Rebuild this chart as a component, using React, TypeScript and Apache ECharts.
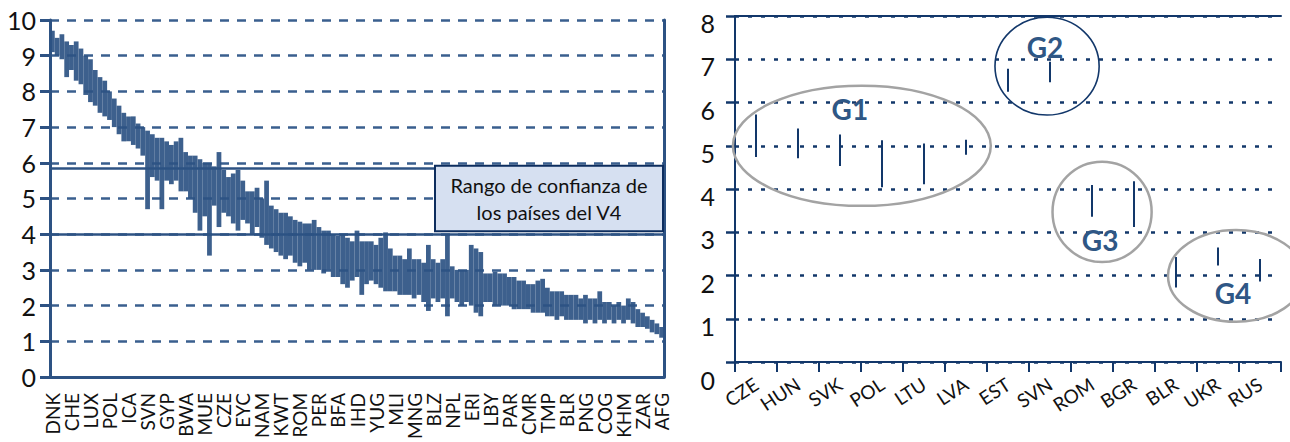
import React, { useEffect, useRef } from "react";
import * as echarts from "echarts";

// ---------- Left chart data (country index scores with confidence ranges) ----------
const leftLabels = [
  "DNK", "CHE", "LUX", "POL", "ICA", "SVN", "GYP", "BWA", "MUE", "CZE", "EYC",
  "NAM", "KWT", "ROM", "PER", "BFA", "IHD", "YUG", "MLI", "MNG", "BLZ", "NPL",
  "ERI", "LBY", "PAR", "CMR", "TMP", "BLR", "PNG", "COG", "KHM", "ZAR", "AFG",
];
const leftHigh = [
  9.7, 9.5, 9.6, 9.4, 9.3, 9.4, 9.2, 9.0, 8.9, 8.6,
  8.4, 8.3, 8.0, 7.8, 7.6, 7.4, 7.3, 7.3, 7.1, 7.0,
  6.9, 6.8, 6.7, 6.7, 6.6, 6.5, 6.6, 6.7, 6.3, 6.2,
  6.2, 6.1, 6.0, 6.0, 5.9, 6.3, 5.8, 5.6, 5.7, 5.8,
  5.5, 5.2, 5.2, 5.3, 5.0, 5.5, 4.8, 4.7, 4.6, 4.6,
  4.5, 4.4, 4.35, 4.3, 4.3, 4.4, 4.2, 4.1, 4.1, 4.0,
  3.95, 4.0, 3.9, 3.8, 4.1, 3.8, 3.8, 3.8, 3.7, 3.9,
  4.05, 3.6, 3.4, 3.4, 3.3, 3.6, 3.3, 3.3, 3.2, 3.7,
  3.3, 3.2, 3.3, 4.0, 3.1, 3.0, 3.0, 3.0, 3.7, 3.6,
  3.5, 2.9, 2.9, 2.95, 2.9, 2.9, 2.8, 2.8, 2.7, 2.7,
  2.6, 2.6, 2.7, 2.75, 2.5, 2.4, 2.4, 2.4, 2.3, 2.3,
  2.3, 2.2, 2.3, 2.2, 2.2, 2.4, 2.1, 2.1, 2.0, 2.1,
  2.0, 2.2, 2.1, 1.9, 1.8, 1.7, 1.6, 1.5, 1.4,
];
const leftLow = [
  9.1, 9.0, 8.9, 8.4, 8.6, 8.3, 8.2, 7.9, 7.7, 7.6,
  7.4, 7.3, 7.2, 7.0, 6.8, 6.6, 6.6, 6.5, 6.4, 6.2,
  4.7, 5.6, 5.5, 4.7, 5.5, 5.4, 5.5, 5.2, 5.2, 5.0,
  4.6, 4.1, 4.5, 3.4, 4.8, 4.2, 4.6, 4.5, 4.3, 4.1,
  4.4, 4.3, 4.0, 4.2, 3.9, 3.7, 3.6, 3.5, 3.4, 3.3,
  3.4, 3.2, 3.1, 3.2, 3.0, 3.0, 3.0, 2.9, 3.0, 2.8,
  2.8, 2.6, 2.5, 2.7, 2.8, 2.3, 2.6, 2.7, 2.6, 2.5,
  2.4, 2.4, 2.4, 2.3, 2.3, 2.3, 2.2, 2.3, 2.1, 1.85,
  2.2, 2.1, 2.2, 1.7, 2.2, 2.1, 2.0, 2.1, 2.0, 1.8,
  1.7, 2.1, 2.1, 2.0, 2.0, 2.0, 2.0, 1.9, 1.9, 1.9,
  1.9, 1.8, 1.8, 1.8, 1.7, 1.7, 1.6, 1.7, 1.6, 1.6,
  1.6, 1.6, 1.5, 1.6, 1.5, 1.6, 1.5, 1.6, 1.5, 1.6,
  1.5, 1.6, 1.5, 1.4, 1.4, 1.35, 1.25, 1.2, 1.1,
];
const LABEL_STEP = 4;
const leftCategories = leftHigh.map((_, i) =>
  i % LABEL_STEP === 0 ? leftLabels[i / LABEL_STEP] ?? "" : ""
);
const v4Range = [4.0, 5.85];
const boxText = "Rango de confianza de\nlos países del V4";

// ---------- Right chart data ----------
const rightCats = ["CZE", "HUN", "SVK", "POL", "LTU", "LVA", "EST", "SVN", "ROM", "BGR", "BLR", "UKR", "RUS"];
const rightHigh = [5.72, 5.4, 5.26, 5.13, 5.05, 5.14, 6.78, 6.94, 4.09, 4.18, 2.43, 2.65, 2.38];
const rightLow = [4.74, 4.71, 4.53, 4.04, 4.11, 4.79, 6.25, 6.47, 3.36, 3.12, 1.72, 2.23, 1.86];
const groupNames = ["G1", "G2", "G3", "G4"];

// ---------- styling / layout ----------
const NAVY_L = "#2d5283";
const NAVY_R = "#12376a";
const GRAY = "#a3a3a3";
const GTEXT = "#2f5785";
const FONT = "Lato, 'Open Sans', sans-serif";

// annotation geometry: center in (category index, value), radii in (bands, value units)
const groupShapes = [
  { cx: 2.52, cy: 5.0, rx: 3.07, ry: 1.39, stroke: GRAY, lw: 2.5, dx: -12, dy: -37 },
  { cx: 6.93, cy: 6.84, rx: 1.24, ry: 1.13, stroke: NAVY_R, lw: 1.6, dx: -2, dy: -19 },
  { cx: 8.24, cy: 3.47, rx: 1.18, ry: 1.16, stroke: GRAY, lw: 2.5, dx: -2, dy: 28 },
  { cx: 11.43, cy: 1.99, rx: 1.62, ry: 1.06, stroke: GRAY, lw: 2.5, dx: -3, dy: 17 },
];

export default function App() {
  const ref = useRef<HTMLDivElement>(null);

  useEffect(() => {
    if (!ref.current) return;
    const chart = echarts.init(ref.current, null, { renderer: "svg" });

    const leftData = leftHigh.map((h, i) => [i, leftLow[i], h]);
    const rightData = rightHigh.map((h, i) => [i, rightLow[i], h]);

    const option: any = {
      animation: false,
      backgroundColor: "#ffffff",
      textStyle: { fontFamily: FONT },
      grid: [
        { left: 50, top: 20, width: 614, height: 360 },
        { left: 735, top: 16, width: 546, height: 346 },
      ],
      xAxis: [
        {
          type: "category",
          gridIndex: 0,
          data: leftCategories,
          axisLine: { show: true, lineStyle: { color: NAVY_L, width: 3 } },
          axisTick: { show: false },
          axisLabel: { interval: LABEL_STEP - 1, rotate: 90, margin: 16, fontSize: 19, color: "#111", fontFamily: FONT },
          splitLine: { show: false },
        },
        {
          type: "category",
          gridIndex: 1,
          data: rightCats,
          axisLine: { show: true, lineStyle: { color: NAVY_R, width: 2 } },
          axisTick: { show: true, length: 10, lineStyle: { color: NAVY_R, width: 2 } },
          axisLabel: { interval: 0, rotate: 33, margin: 20, fontSize: 19, color: "#111", fontFamily: FONT },
          splitLine: { show: false },
        },
        {
          type: "category",
          gridIndex: 1,
          position: "top",
          data: rightCats,
          axisLine: { show: true, lineStyle: { color: NAVY_R, width: 2 } },
          axisTick: { show: false },
          axisLabel: { show: false },
          splitLine: { show: false },
        },
      ],
      yAxis: [
        {
          type: "value",
          gridIndex: 0,
          min: 0,
          max: 10,
          interval: 1,
          axisLine: { show: true, lineStyle: { color: NAVY_L, width: 3 } },
          axisTick: { show: true, length: 10, lineStyle: { color: NAVY_L, width: 3 } },
          axisLabel: { fontSize: 25, color: "#111", margin: 14, fontFamily: FONT },
          splitLine: { show: true, lineStyle: { type: [9, 8], color: "#3a5f8e", width: 2.5 } },
        },
        {
          type: "value",
          gridIndex: 0,
          position: "right",
          min: 0,
          max: 10,
          interval: 1,
          axisLine: { show: true, lineStyle: { color: NAVY_L, width: 3 } },
          axisTick: { show: false },
          axisLabel: { show: false },
          splitLine: { show: false },
        },
        {
          type: "value",
          gridIndex: 1,
          min: 0,
          max: 8,
          interval: 1,
          axisLine: { show: true, lineStyle: { color: NAVY_R, width: 2 } },
          axisTick: { show: true, length: 9, lineStyle: { color: NAVY_R, width: 2.5 } },
          axisLabel: {
            margin: 20,
            color: "#111",
            fontFamily: FONT,
            formatter: (v: number) => (v === 0 ? "{z|0}" : "{n|" + v + "}"),
            rich: {
              n: { fontSize: 25, padding: [14, 0, 0, 0], fontFamily: FONT, color: "#111" },
              z: { fontSize: 25, padding: [36, 0, 0, 0], fontFamily: FONT, color: "#111" },
            },
          },
          splitLine: { show: true, lineStyle: { type: [4, 9], color: NAVY_R, width: 2.5 } },
        },
      ],
      series: [
        {
          type: "custom",
          xAxisIndex: 0,
          yAxisIndex: 0,
          z: 6,
          data: leftData,
          encode: { x: 0, y: [1, 2] },
          renderItem: (params: any, api: any) => {
            const i = api.value(0);
            const top = api.coord([i, api.value(2)]);
            const bot = api.coord([i, api.value(1)]);
            const w = api.size([1, 0])[0];
            return {
              type: "rect",
              shape: { x: top[0] - w / 2, y: top[1], width: w, height: bot[1] - top[1] },
              style: { fill: NAVY_L, opacity: 0.92 },
            };
          },
          markLine: {
            silent: true,
            symbol: "none",
            label: { show: false },
            lineStyle: { color: NAVY_L, width: 2.5, type: "solid" },
            data: v4Range.map((v) => ({ yAxis: v })),
          },
        },
        {
          type: "custom",
          xAxisIndex: 1,
          yAxisIndex: 2,
          data: rightData,
          encode: { x: 0, y: [1, 2] },
          renderItem: (params: any, api: any) => {
            const i = api.value(0);
            const top = api.coord([i, api.value(2)]);
            const bot = api.coord([i, api.value(1)]);
            return {
              type: "line",
              shape: { x1: top[0], y1: top[1], x2: bot[0], y2: bot[1] },
              style: { stroke: NAVY_R, lineWidth: 2 },
            };
          },
        },
      ],
    };
    chart.setOption(option);

    // annotations positioned through the axes
    const x0 = chart.convertToPixel({ xAxisIndex: 1 } as any, 0) as number;
    const x1 = chart.convertToPixel({ xAxisIndex: 1 } as any, 1) as number;
    const bw = x1 - x0;
    const yPx = (v: number) => chart.convertToPixel({ yAxisIndex: 2 } as any, v) as number;
    const unit = yPx(0) - yPx(1);

    const graphics: any[] = [];
    groupShapes.forEach((g, k) => {
      const cx = x0 + g.cx * bw;
      const cy = yPx(g.cy);
      graphics.push({
        type: "ellipse",
        z: 20,
        shape: { cx, cy, rx: g.rx * bw, ry: g.ry * unit },
        style: { fill: "none", stroke: g.stroke, lineWidth: g.lw },
      });
      graphics.push({
        type: "text",
        z: 21,
        x: cx + g.dx,
        y: cy + g.dy,
        style: {
          text: groupNames[k],
          fill: GTEXT,
          fontSize: 28,
          fontWeight: "bold",
          fontFamily: FONT,
          align: "center",
          verticalAlign: "middle",
        },
      });
    });

    // V4 confidence range label box on the left chart
    const ly = (v: number) => chart.convertToPixel({ yAxisIndex: 0 } as any, v) as number;
    const boxTop = ly(5.92);
    const boxBot = ly(4.08);
    const boxLeft = 435;
    const boxRight = 663;
    graphics.push({
      type: "rect",
      z: 30,
      shape: { x: boxLeft, y: boxTop, width: boxRight - boxLeft, height: boxBot - boxTop },
      style: { fill: "#d6e0f1", stroke: "#0d2d5e", lineWidth: 2 },
    });
    graphics.push({
      type: "text",
      z: 31,
      x: (boxLeft + boxRight) / 2,
      y: (boxTop + boxBot) / 2,
      style: {
        text: boxText,
        fill: "#111",
        fontSize: 20,
        lineHeight: 27,
        fontFamily: FONT,
        align: "center",
        verticalAlign: "middle",
      },
    });

    chart.setOption({ graphic: graphics });

    return () => chart.dispose();
  }, []);

  return (
    <div
      ref={ref}
      style={{ position: "absolute", left: 0, top: 0, width: 1290, height: 442, background: "#fff" }}
    />
  );
}
